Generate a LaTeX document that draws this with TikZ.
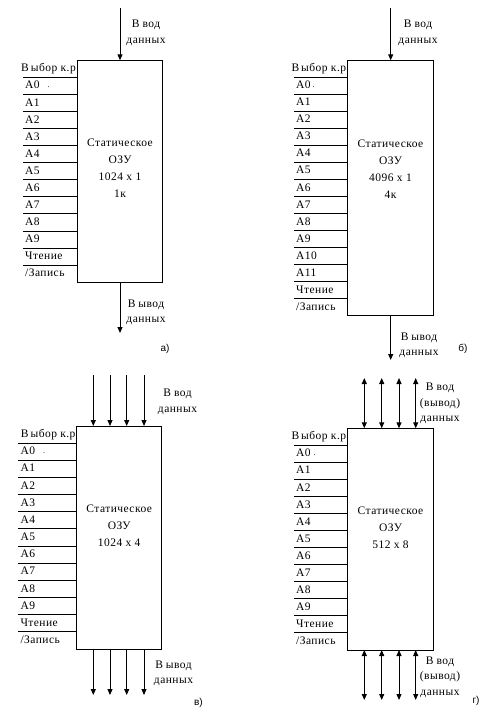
\documentclass[tikz,border=0pt]{standalone}
\usepackage{fontspec}
\setmainfont{Liberation Serif}[LetterSpace=4]
\setsansfont{Liberation Sans}
\usetikzlibrary{arrows.meta}
\tikzset{
  box/.style={draw, line width=1pt, inner sep=0pt, outer sep=0pt},
  tick/.style={line width=1pt},
  arr/.style={line width=1pt, -{Triangle[length=6pt,width=5pt]}},
  darr/.style={line width=1pt, {Triangle[length=6pt,width=5pt]}-{Triangle[length=6pt,width=5pt]}},
  lbl/.style={inner sep=0pt, font=\fontsize{11.5}{14}\selectfont},
  ctext/.style={inner sep=0pt, align=center, anchor=base, font=\fontsize{11.5}{17}\selectfont},
  dtext/.style={inner sep=0pt, align=center, anchor=base, font=\fontsize{11.5}{15.5}\selectfont},
  sub/.style={inner sep=0pt, anchor=base, font=\sffamily\fontsize{10}{12}\selectfont}
}
\newcommand\smalldot{\raisebox{1.5pt}{\fontsize{8}{8}\selectfont .}}
% #1 name, #2 left, #3 right, #4 top, #5 bottom, #6 tick start x, #7 number of rows, #8 labels
\newcommand\ramblock[8]{%
  \node[box, minimum width={#3-#2}, minimum height={#5-#4}, anchor=north west] (#1) at (#2,#4) {};
  \pgfmathsetmacro\rstep{(#5-#4)/#7}
  \foreach \t [count=\i from 0] in {#8} {
    \pgfmathsetmacro\yy{#4+(\i+1)*\rstep}
    \pgfmathsetmacro\yb{\yy-5.5}
    \ifnum\i<\numexpr#7-1\relax
      \draw[tick] (#6,\yy) -- (#1.west |- 0,\yy);
    \fi
    \ifnum\i=0
      \node[lbl, anchor=base east] at (#2-1,\yb) {\t};
    \else
      \node[lbl, anchor=base west] at (#6+2,\yb) {\t};
    \fi
  }
}
\begin{document}
\begin{tikzpicture}[x=1pt,y=-1pt]
\useasboundingbox (0,0) rectangle (492,709);

% ---------- a) ----------
\ramblock{A}{77}{162.5}{60.3}{282.3}{23}{13}{В\kern2pt ыбор к.р, A0\hspace{8pt}\smalldot, A1, A2, A3, A4, A5, A6, A7, A8, A9, Чтение, /Запись}
\node[ctext] (Atxt) at (120,197) {Статическое\\ОЗУ\\1024 x 1\\1к};
\coordinate (Ain) at (120,8);
\coordinate (Aout) at (120,333);
\draw[arr] (Ain) -- (Ain |- A.north);
\draw[arr] (Aout |- A.south) -- (Aout);
\node[dtext] (Ainl) at (146,43.2) {В\kern3pt вод\\данных};
\node[dtext] (Aoutl) at (146,322.8) {В\kern3pt ывод\\данных};
\node[sub] (Asub) at (165,351.7) {а)};

% ---------- b) ----------
\ramblock{B}{347.3}{433.3}{60.3}{315.7}{294}{15}{В\kern2pt ыбор к.р, A0\hspace{2pt}\smalldot, A1, A2, A3, A4, A5, A6, A7, A8, A9, A10, A11, Чтение, /Запись}
\node[ctext] (Btxt) at (390.5,198.5) {Статическое\\ОЗУ\\4096 x 1\\4к};
\coordinate (Bin) at (390.7,8);
\coordinate (Bout) at (390.7,360);
\draw[arr] (Bin) -- (Bin |- B.north);
\draw[arr] (Bout |- B.south) -- (Bout);
\node[dtext] (Binl) at (418,43.2) {В\kern3pt вод\\данных};
\node[dtext] (Boutl) at (419,355.5) {В\kern3pt ывод\\данных};
\node[sub] (Bsub) at (463,351.7) {б)};

% ---------- c) ----------
\ramblock{C}{76.7}{161.7}{426}{649}{18.3}{13}{В\kern2pt ыбор к.р, A0\hspace{8pt}\smalldot, A1, A2, A3, A4, A5, A6, A7, A8, A9, Чтение, /Запись}
\node[ctext] (Ctxt) at (119.2,546.3) {Статическое\\ОЗУ\\1024 x 4};
\foreach \x [count=\k] in {93.3,110,126.7,144} {
  \coordinate (Cin\k) at (\x,375);
  \coordinate (Cout\k) at (\x,695);
  \draw[arr] (Cin\k) -- (Cin\k |- C.north);
  \draw[arr] (Cout\k |- C.south) -- (Cout\k);
}
\node[dtext] (Cinl) at (177.5,412.2) {В\kern3pt вод\\данных};
\node[dtext] (Coutl) at (173.5,683.8) {В\kern3pt ывод\\данных};
\node[sub] (Csub) at (198.5,705) {в)};

% ---------- d) ----------
\ramblock{D}{347.3}{433.3}{428.3}{650}{294}{13}{В\kern2pt ыбор к.р, A0\hspace{3pt}\smalldot, A1, A2, A3, A4, A5, A6, A7, A8, A9, Чтение, /Запись}
\node[ctext] (Dtxt) at (390.5,548) {Статическое\\ОЗУ\\512 x 8};
\foreach \x [count=\k] in {364.3,381.7,399,415.7} {
  \coordinate (Din\k) at (\x,378);
  \coordinate (Dout\k) at (\x,700);
  \draw[darr] (Din\k) -- (Din\k |- D.north);
  \draw[darr] (Dout\k |- D.south) -- (Dout\k);
}
\node[dtext] (Dinl) at (440,421.7) {В\kern3pt вод\\(вывод)\\данных};
\node[dtext] (Doutl) at (440,695) {В\kern3pt вод\\(вывод)\\данных};
\node[sub] (Dsub) at (476,703.3) {г)};
\end{tikzpicture}
\end{document}
